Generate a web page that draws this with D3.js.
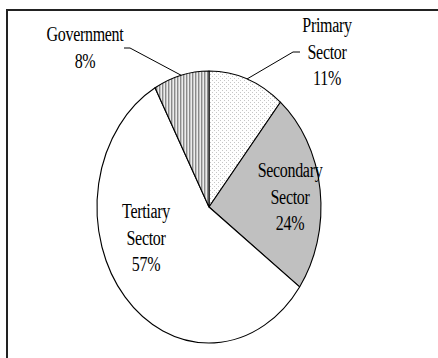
<!DOCTYPE html>
<html>
<head>
<meta charset="utf-8">
<script src="https://cdn.jsdelivr.net/npm/d3@7"></script>
<style>
  html, body { margin: 0; padding: 0; background: #fff; }
  svg { display: block; }
</style>
</head>
<body>
<script>
// Sector shares, clockwise from 12 o'clock
const sectors = ["Primary", "Secondary", "Tertiary", "Government"];
const labelLines = [["Primary", "Sector"], ["Secondary", "Sector"], ["Tertiary", "Sector"], ["Government"]];
const shares = [11, 24, 57, 8];

const W = 438, H = 358;
const cx = 209, cy = 207, rx = 112, ry = 136;   // the pie is drawn slightly squeezed horizontally
const textScaleX = 0.8;

// label anchors (centre x, first baseline) and leader-line flags
const labelPos = [
  { x: 327, y: 32, leader: true },
  { x: 290, y: 177, leader: false },
  { x: 146, y: 218, leader: false },
  { x: 85,  y: 41, leader: true }
];
const lineGap = 26.5;

const svg = d3.select("body").append("svg")
  .attr("width", W).attr("height", H);

const defs = svg.append("defs");

// fine stipple for the primary sector
const dots = defs.append("pattern").attr("id", "dots")
  .attr("patternUnits", "userSpaceOnUse").attr("width", 4).attr("height", 4);
dots.append("rect").attr("width", 4).attr("height", 4).attr("fill", "#fff");
dots.append("rect").attr("x", 0).attr("y", 0).attr("width", 1).attr("height", 1).attr("fill", "#c6c6c6");
dots.append("rect").attr("x", 2).attr("y", 2).attr("width", 1).attr("height", 1).attr("fill", "#c6c6c6");

// vertical hatching for government
const stripes = defs.append("pattern").attr("id", "stripes")
  .attr("patternUnits", "userSpaceOnUse").attr("width", 3).attr("height", 4);
stripes.append("rect").attr("width", 3).attr("height", 4).attr("fill", "#ececec");
stripes.append("rect").attr("x", 0).attr("width", 1).attr("height", 4).attr("fill", "#8a8a8a");
stripes.append("rect").attr("x", 1).attr("width", 1).attr("height", 4).attr("fill", "#c4c4c4");

const fills = ["url(#dots)", "#c0c0c0", "#ffffff", "url(#stripes)"];

// frame of the chart area
svg.append("rect")
  .attr("x", 7).attr("y", 10).attr("width", W + 20).attr("height", H + 20)
  .attr("fill", "none").attr("stroke", "#222").attr("stroke-width", 2);

const pie = d3.pie().sort(null).value(d => d);
const arcs = pie(shares);

const pt = a => [cx + rx * Math.sin(a), cy - ry * Math.cos(a)];

function slicePath(d) {
  const p0 = pt(d.startAngle), p1 = pt(d.endAngle);
  const large = (d.endAngle - d.startAngle) > Math.PI ? 1 : 0;
  return `M${cx},${cy}L${p0[0]},${p0[1]}A${rx},${ry} 0 ${large} 1 ${p1[0]},${p1[1]}Z`;
}

svg.append("g").selectAll("path")
  .data(arcs)
  .join("path")
  .attr("d", slicePath)
  .attr("fill", (d, i) => fills[i])
  .attr("stroke", "#000")
  .attr("stroke-width", 1.1)
  .attr("stroke-linejoin", "round");

// leader lines from labels to slice edges
arcs.forEach((d, i) => {
  const lp = labelPos[i];
  if (!lp.leader) return;
  const mid = (d.startAngle + d.endAngle) / 2;
  const edge = pt(mid);
  let pts;
  if (i === 0) {
    pts = [[300, lp.y + 20], [293, lp.y + 20], edge];
  } else {
    pts = [[124, lp.y + 7], [130, lp.y + 7], edge];
  }
  svg.append("path")
    .attr("d", d3.line()(pts))
    .attr("fill", "none")
    .attr("stroke", "#000")
    .attr("stroke-width", 1);
});

// labels
const fmt = v => `${v}%`;
arcs.forEach((d, i) => {
  const lp = labelPos[i];
  const lines = labelLines[i].concat([fmt(shares[i])]);
  lines.forEach((t, k) => {
    svg.append("text")
      .attr("transform", `translate(${lp.x},${lp.y + k * lineGap}) scale(${textScaleX},1)`)
      .attr("text-anchor", "middle")
      .attr("font-family", "'Liberation Serif', 'Times New Roman', serif")
      .attr("font-size", 20)
      .attr("letter-spacing", -0.4)
      .attr("fill", "#000")
      .text(t);
  });
});
</script>
</body>
</html>
